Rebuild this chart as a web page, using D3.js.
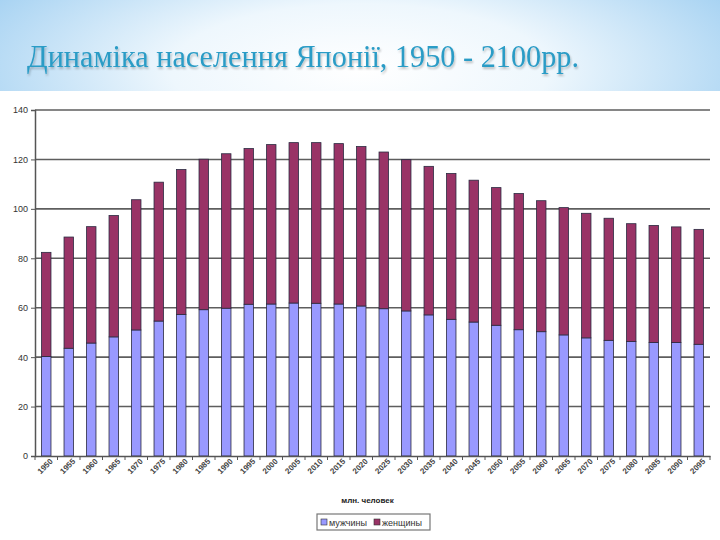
<!DOCTYPE html>
<html>
<head>
<meta charset="utf-8">
<script src="https://cdn.jsdelivr.net/npm/d3@7"></script>
<style>
  body { margin: 0; background: #fff; }
  svg { display: block; }
</style>
</head>
<body>
<svg width="720" height="540"></svg>
<script>
// Data (млн. человек)
var years = ["1950", "1955", "1960", "1965", "1970", "1975", "1980", "1985", "1990", "1995",
             "2000", "2005", "2010", "2015", "2020", "2025", "2030", "2035", "2040", "2045",
             "2050", "2055", "2060", "2065", "2070", "2075", "2080", "2085", "2090", "2095"];
var men = [40.3, 43.6, 45.7, 48.2, 51.0, 54.6, 57.3, 59.2, 59.8, 61.4,
           61.5, 61.9, 61.8, 61.5, 60.7, 59.6, 58.7, 57.1, 55.3, 54.2,
           52.9, 51.1, 50.3, 49.0, 47.8, 46.8, 46.3, 45.9, 45.9, 45.2];
var totals = [82.4, 88.6, 92.8, 97.3, 103.7, 110.8, 115.9, 120.1, 122.3, 124.4,
              126.0, 126.8, 126.8, 126.4, 125.2, 123.0, 119.9, 117.2, 114.3, 111.6,
              108.6, 106.2, 103.3, 100.5, 98.2, 96.2, 94.0, 93.3, 92.7, 91.7];
var women = totals.map((t, i) => +(t - men[i]).toFixed(1));
var yTicks = [0, 20, 40, 60, 80, 100, 120, 140];
var seriesNames = ["мужчины", "женщины"];
var colors = ["#9999ff", "#993366"];

var svg = d3.select("svg");

// header background
var defs = svg.append("defs");
var grad = defs.append("radialGradient")
    .attr("id", "hdr")
    .attr("gradientUnits", "userSpaceOnUse")
    .attr("cx", 360).attr("cy", 70).attr("r", 420)
    .attr("gradientTransform", "translate(360,70) scale(1,0.35) translate(-360,-70)");
grad.append("stop").attr("offset", "0").attr("stop-color", "#ffffff");
grad.append("stop").attr("offset", "0.45").attr("stop-color", "#eef7fd");
grad.append("stop").attr("offset", "1").attr("stop-color", "#a6d2f2");

svg.append("rect")
    .attr("x", 0).attr("y", 0)
    .attr("width", 720).attr("height", 91)
    .attr("fill", "url(#hdr)");

var shadow = defs.append("filter").attr("id", "glow")
    .attr("x", "-5%").attr("y", "-30%").attr("width", "110%").attr("height", "160%");
shadow.append("feGaussianBlur").attr("in", "SourceAlpha").attr("stdDeviation", 1).attr("result", "b");
shadow.append("feOffset").attr("in", "b").attr("dx", 1).attr("dy", 1.5).attr("result", "o");
shadow.append("feComponentTransfer").attr("in", "o").attr("result", "s")
    .append("feFuncA").attr("type", "linear").attr("slope", 0.25);
var merge = shadow.append("feMerge");
merge.append("feMergeNode").attr("in", "s");
merge.append("feMergeNode").attr("in", "SourceGraphic");

// title: tall narrow serif, squeezed to the reference width
svg.append("text")
    .attr("x", 27)
    .attr("y", 67)
    .attr("font-family", "Liberation Serif, Times New Roman, DejaVu Serif, serif")
    .attr("font-size", 31)
    .attr("font-style", "normal")
    .attr("textLength", 552)
    .attr("lengthAdjust", "spacingAndGlyphs")
    .attr("fill", "#2b9cc6")
    .attr("filter", "url(#glow)")
    .text("Динаміка населення Японії, 1950 - 2100рр.");

// Chart
var margin = { left: 35, right: 10, top: 110, bottom: 84 };
var width = 720 - margin.left - margin.right;
var height = 540 - margin.top - margin.bottom;

var chartG = svg.append("g")
    .attr("transform", "translate(" + margin.left + "," + margin.top + ")");

var x = d3.scaleBand().domain(years).range([0, width])
    .paddingInner(0.58).paddingOuter(0.29);
var y = d3.scaleLinear().domain([0, 140]).range([height, 0]);

// gridlines
chartG.selectAll(".grid").data(yTicks.filter(d => d > 0)).enter()
    .append("line")
    .attr("class", "grid")
    .attr("x1", 0).attr("x2", width)
    .attr("y1", d => y(d)).attr("y2", d => y(d))
    .attr("stroke", "#5e5e5e")
    .attr("stroke-width", 1.6);

// stacked data
var rows = years.map((yr, i) => ({ year: yr, "мужчины": men[i], "женщины": women[i] }));
var stack = d3.stack().keys(seriesNames)(rows);

chartG.selectAll(".series").data(stack).enter()
    .append("g")
    .attr("class", "series")
    .attr("fill", (d, i) => colors[i])
    .selectAll("rect").data(d => d).enter()
    .append("rect")
    .attr("x", d => x(d.data.year))
    .attr("y", d => y(d[1]))
    .attr("width", x.bandwidth())
    .attr("height", d => y(d[0]) - y(d[1]))
    .attr("stroke", "#2a2a40")
    .attr("stroke-width", 0.8);

// y axis
var yAxis = d3.axisLeft(y).tickValues(yTicks).tickSize(4).tickPadding(3);
var yAxisG = chartG.append("g").call(yAxis);
yAxisG.select(".domain").attr("stroke", "#555").attr("stroke-width", 1.5);
yAxisG.selectAll(".tick line").attr("stroke", "#555");
yAxisG.selectAll("text")
    .style("font-family", "'Liberation Sans', Arial, sans-serif")
    .style("font-size", "9px")
    .style("fill", "#333");

// x axis
var xAxis = d3.axisBottom(x).tickSize(0).tickPadding(6);
var xAxisG = chartG.append("g")
    .attr("transform", "translate(0," + height + ")")
    .call(xAxis);
xAxisG.select(".domain").attr("stroke", "#555").attr("stroke-width", 1.5);
xAxisG.selectAll("text")
    .style("font-family", "'Liberation Sans', Arial, sans-serif")
    .style("font-size", "8px")
    .style("font-weight", "bold")
    .style("fill", "#444")
    .style("text-anchor", "end")
    .attr("dx", "0.1em")
    .attr("dy", "0.4em")
    .attr("transform", "rotate(-45)");

// tick marks between categories
var half = x.step() / 2;
xAxisG.selectAll(".sep").data(years.concat(["end"])).enter()
    .append("line")
    .attr("class", "sep")
    .attr("x1", (d, i) => i < years.length ? x(d) + x.bandwidth() / 2 - half : x(years[years.length - 1]) + x.bandwidth() / 2 + half)
    .attr("x2", (d, i) => i < years.length ? x(d) + x.bandwidth() / 2 - half : x(years[years.length - 1]) + x.bandwidth() / 2 + half)
    .attr("y1", 0).attr("y2", 4)
    .attr("stroke", "#555");

// axis title
svg.append("text")
    .attr("x", margin.left + width / 2 - 5)
    .attr("y", 503)
    .style("text-anchor", "middle")
    .style("font-family", "'Liberation Sans', Arial, sans-serif")
    .style("font-size", "8px")
    .style("font-weight", "bold")
    .style("fill", "#222")
    .text("млн. человек");

// legend
var legend = svg.append("g").attr("transform", "translate(317,514)");
legend.append("rect")
    .attr("x", 0).attr("y", 0)
    .attr("width", 113).attr("height", 16)
    .attr("fill", "#fff")
    .attr("stroke", "#777")
    .attr("stroke-width", 1.2);
var lx = [4, 57];
seriesNames.forEach((name, i) => {
    legend.append("rect")
        .attr("x", lx[i]).attr("y", 5)
        .attr("width", 6).attr("height", 6)
        .attr("fill", colors[i])
        .attr("stroke", "#333")
        .attr("stroke-width", 0.6);
    legend.append("text")
        .attr("x", lx[i] + 8).attr("y", 11.5)
        .style("font-family", "'Liberation Sans', Arial, sans-serif")
        .style("font-size", "9px")
        .style("fill", "#333")
        .text(name);
});
</script>
</body>
</html>
